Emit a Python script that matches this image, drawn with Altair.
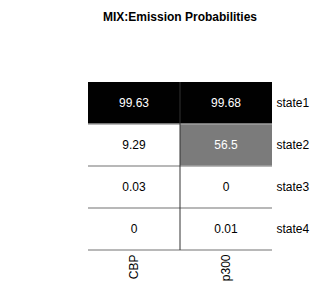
import altair as alt
import pandas as pd

states = ["state1", "state2", "state3", "state4"]
marks = ["CBP", "p300"]
cbp_values = [99.63, 9.29, 0.03, 0]
p300_values = [99.68, 56.5, 0, 0.01]

rows = []
for s, c, p in zip(states, cbp_values, p300_values):
    rows.append({"state": s, "mark": "CBP", "value": c, "label": f"{c:g}"})
    rows.append({"state": s, "mark": "p300", "value": p, "label": f"{p:g}"})
df = pd.DataFrame(rows)
state_df = pd.DataFrame({"state": states})
mark_df = pd.DataFrame({"mark": marks[1:]})

FONT = "Liberation Sans"

xscale = alt.Scale(domain=marks, paddingInner=0, paddingOuter=0)
yscale = alt.Scale(domain=states, paddingInner=0, paddingOuter=0)

xenc = alt.X("mark:N", scale=xscale, sort=marks,
             axis=alt.Axis(title=None, orient="bottom", labelAngle=-90, domain=False,
                           ticks=False, labelPadding=4, labelFontSize=12,
                           labelFont=FONT, labelColor="black"))
yenc = alt.Y("state:N", scale=yscale, sort=states,
             axis=alt.Axis(title=None, orient="right", domain=False, ticks=False,
                           labelPadding=4, labelFontSize=12, labelFont=FONT,
                           labelColor="black", labelAlign="left"))

rect = alt.Chart(df).mark_rect().encode(
    x=xenc,
    y=yenc,
    color=alt.Color("value:Q", scale=alt.Scale(domain=[10, 100], range=["#ffffff", "#000000"],
                                               interpolate="rgb", clamp=True), legend=None),
)

hrules = alt.Chart(state_df).mark_rule(color="#a0a0a0", strokeWidth=1.5).encode(
    y=alt.Y("state:N", scale=yscale, sort=states, bandPosition=1),
)

vrule = alt.Chart(mark_df).mark_rule(color="#333333", strokeWidth=1).encode(
    x=alt.X("mark:N", scale=xscale, sort=marks, bandPosition=0),
)

text = alt.Chart(df).mark_text(fontSize=12, font=FONT).encode(
    x=alt.X("mark:N", scale=xscale, sort=marks),
    y=alt.Y("state:N", scale=yscale, sort=states),
    text="label:N",
    color=alt.condition(alt.datum.value > 50, alt.value("white"), alt.value("black")),
)

chart = alt.layer(rect, hrules, vrule, text).properties(
    width=184,
    height=168,
    title=alt.TitleParams("MIX:Emission Probabilities", fontSize=12, fontWeight="bold",
                          font=FONT, color="black", offset=58),
    autosize=alt.AutoSizeParams(type="none"),
    padding={"left": 80, "top": 74, "right": 47, "bottom": 42},
    background="white",
).configure_view(strokeWidth=0)

chart.save("out.html", embed_options={"renderer": "svg", "actions": False})
